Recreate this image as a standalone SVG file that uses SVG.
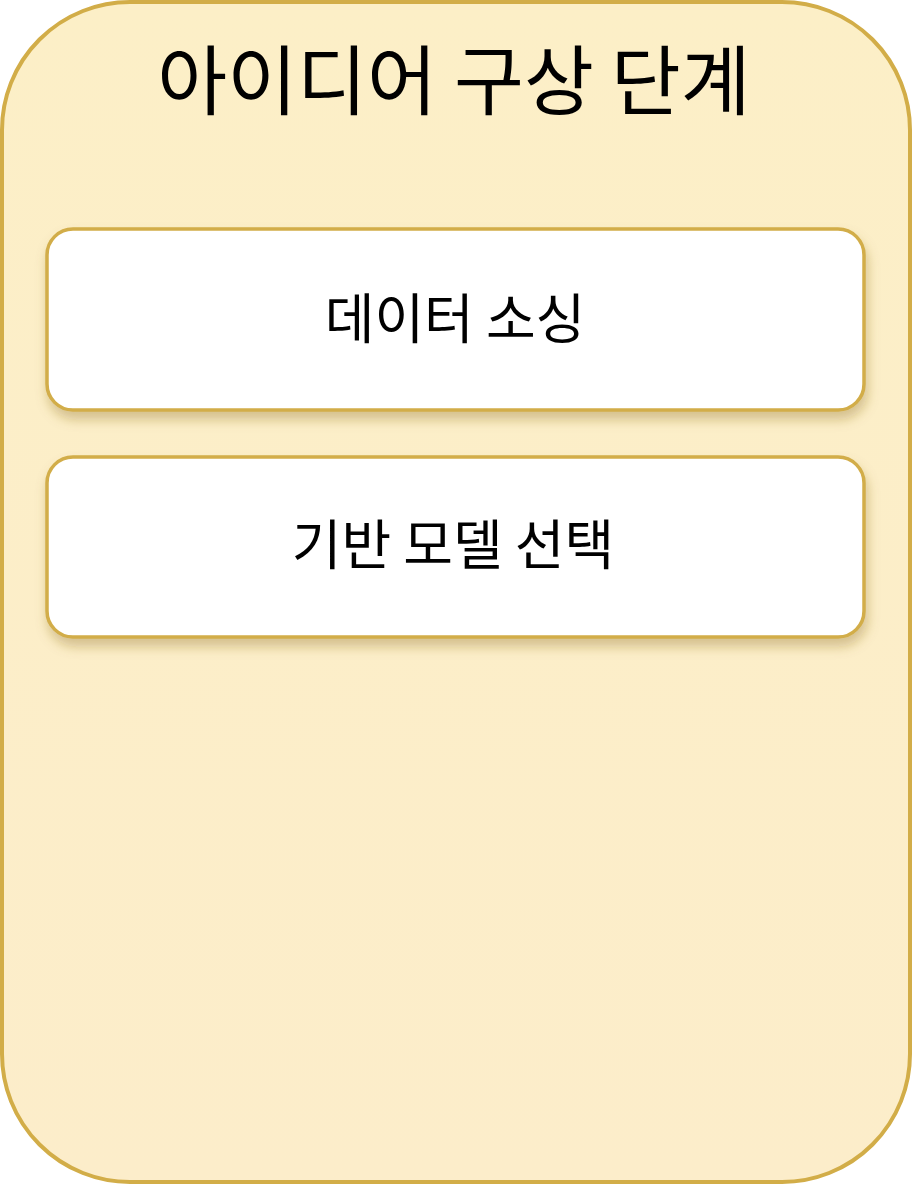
<svg xmlns="http://www.w3.org/2000/svg" width="912" height="1184" viewBox="0 0 912 1184">
  <defs>
    <linearGradient id="bg" x1="0" y1="0" x2="0" y2="1">
      <stop offset="0" stop-color="#fcefc7"/>
      <stop offset="1" stop-color="#fcedca"/>
    </linearGradient>
    <filter id="shadow" x="-10%" y="-20%" width="120%" height="150%">
      <feDropShadow dx="2" dy="8" stdDeviation="6" flood-color="#8a6a20" flood-opacity="0.35"/>
    </filter>
  </defs>
  <style>
    .container { fill: url(#bg); stroke: #d2ad48; stroke-width: 4; }
    .node rect { fill: #ffffff; stroke: #d2ad48; stroke-width: 3.5; filter: url(#shadow); }
    .title { font-family: "Noto Sans CJK KR", "Noto Sans", sans-serif; font-size: 76px; fill: #000; text-anchor: middle; }
    .label { font-family: "Noto Sans CJK KR", "Noto Sans", sans-serif; font-size: 54px; fill: #000; text-anchor: middle; }
  </style>
  <g id="container-idea">
    <rect class="container" x="2" y="2" width="908" height="1180" rx="128" ry="128"/>
    <text class="title" x="454" y="109">아이디어 구상 단계</text>
  </g>
  <g id="node-data-sourcing" class="node">
    <rect x="47" y="229" width="817" height="181" rx="26" ry="26"/>
    <text class="label" x="455" y="339">데이터 소싱</text>
  </g>
  <g id="node-base-model" class="node">
    <rect x="47" y="457" width="817" height="180" rx="26" ry="26"/>
    <text class="label" x="453" y="565">기반 모델 선택</text>
  </g>
  <g id="connectors"></g>
</svg>
